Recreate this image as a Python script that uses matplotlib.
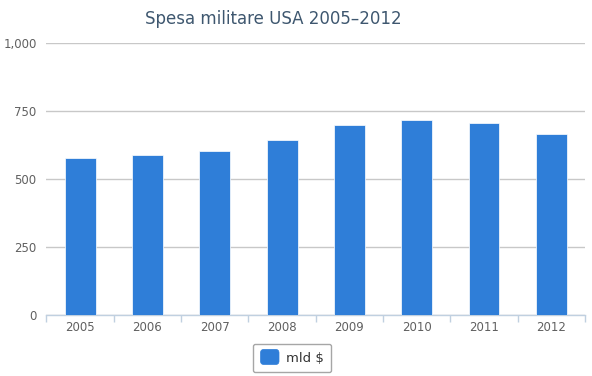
import numpy as np
import matplotlib
matplotlib.use("Agg")
import matplotlib.pyplot as plt
from matplotlib.ticker import FuncFormatter, FixedLocator
from matplotlib.legend_handler import HandlerPatch
from matplotlib.patches import FancyBboxPatch

# data
years = ["2005", "2006", "2007", "2008", "2009", "2010", "2011", "2012"]
spesa = [579, 587, 603, 644, 697, 718, 705, 666]
series_name = "mld $"
title = "Spesa militare USA 2005\u20132012"

bar_color = "#2F7ED8"
text_grey = "#606060"


class RoundBox(HandlerPatch):
    # rounded square legend symbol
    def create_artists(self, legend, orig_handle, xdescent, ydescent,
                       width, height, fontsize, trans):
        p = FancyBboxPatch((-xdescent, -ydescent - 1.5), width, height + 3,
                           boxstyle="round,pad=0,rounding_size=2.5",
                           facecolor=bar_color, edgecolor=bar_color,
                           linewidth=0.5, transform=trans)
        return [p]


fig = plt.figure(figsize=(5.92, 3.76), dpi=100)
ax = fig.add_axes([46.4 / 592, 61 / 376, (585 - 46.4) / 592, 272 / 376])

x = np.arange(len(years))
bars = ax.bar(x, spesa, width=0.46, color=bar_color, edgecolor="white", linewidth=0.5,
              label=series_name, zorder=3)

ax.set_xlim(-0.5, len(years) - 0.5)
ax.set_ylim(0, 1000)

# y axis: gridlines only, comma thousands
ax.set_yticks([0, 250, 500, 750, 1000])
ax.yaxis.set_major_formatter(FuncFormatter(lambda v, p: "{:,.0f}".format(v)))
ax.yaxis.grid(True, color="#C8C8C8", linewidth=1, zorder=0)
ax.tick_params(axis="y", length=0, pad=7, labelsize=8.5, labelcolor=text_grey)

# x axis: labels centered, tick marks between categories
ax.set_xticks(x)
ax.set_xticklabels(years)
ax.xaxis.set_minor_locator(FixedLocator(np.arange(-0.5, len(years), 1.0)))
ax.tick_params(axis="x", which="major", length=0, pad=4, labelsize=8.5, labelcolor=text_grey)
ax.tick_params(axis="x", which="minor", length=5, width=1, color="#C0D0E0")

for s in ["top", "right", "left"]:
    ax.spines[s].set_visible(False)
ax.spines["bottom"].set_color("#C0D0E0")
ax.spines["bottom"].set_linewidth(1)

fig.text(273 / 592, 1 - 19 / 376, title, ha="center", va="center",
         fontsize=12, color="#3E576F")

leg = fig.legend(handles=[bars.patches[0]], labels=[series_name],
                 handler_map={bars.patches[0]: RoundBox()},
                 loc="center", bbox_to_anchor=(292 / 592, 1 - 358 / 376),
                 fontsize=9.5, frameon=True, fancybox=True, handlelength=1.4,
                 handleheight=0.9, handletextpad=0.5, borderpad=0.6)
leg.get_frame().set_edgecolor("#909090")
leg.get_frame().set_linewidth(1)
for t in leg.get_texts():
    t.set_color("#333333")

plt.savefig("out.png", dpi=100)
